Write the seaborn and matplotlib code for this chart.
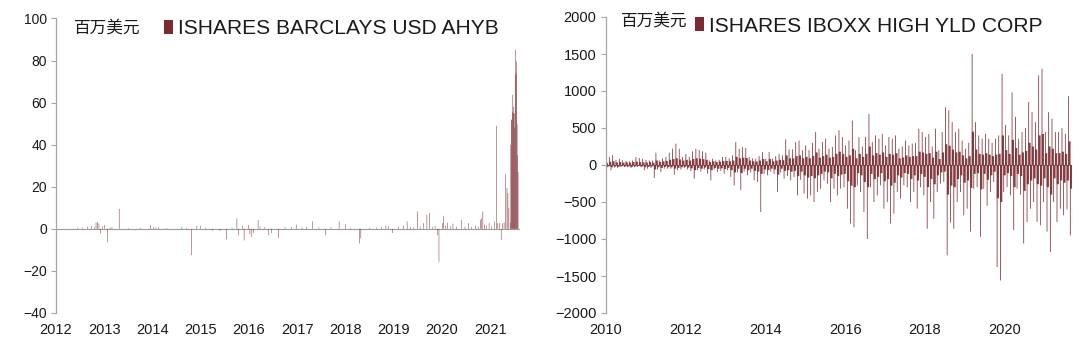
import numpy as np
import pandas as pd
import matplotlib
matplotlib.use("Agg")
import matplotlib.pyplot as plt
import seaborn as sns
from matplotlib.patches import Patch

# ---------------- data: left panel (ISHARES BARCLAYS USD AHYB), 百万美元 ----------------
ahyb_year = [
    2012.45, 2012.55, 2012.65, 2012.74, 2012.80, 2012.83, 2012.86, 2012.89, 2012.92, 2012.96,
    2013.00, 2013.07, 2013.12, 2013.16, 2013.31, 2013.50, 2013.75, 2013.96,
    2014.02, 2014.07, 2014.12, 2014.30, 2014.61, 2014.70, 2014.81, 2014.92, 2014.99,
    2015.10, 2015.25, 2015.40, 2015.54, 2015.65, 2015.75, 2015.78, 2015.87, 2015.90, 2015.99,
    2016.02, 2016.06, 2016.09, 2016.19, 2016.23, 2016.33, 2016.40, 2016.47, 2016.61, 2016.75, 2016.88, 2016.98,
    2017.10, 2017.20, 2017.32, 2017.45, 2017.59, 2017.70, 2017.87,
    2018.00, 2018.10, 2018.29, 2018.32, 2018.50, 2018.65, 2018.75, 2018.84, 2018.90, 2018.98,
    2019.10, 2019.20, 2019.28, 2019.35, 2019.42, 2019.49, 2019.55, 2019.62, 2019.69, 2019.74, 2019.80, 2019.86, 2019.91, 2019.94,
    2020.01, 2020.03, 2020.07, 2020.12, 2020.18, 2020.23, 2020.30, 2020.41, 2020.48, 2020.55, 2020.62, 2020.70, 2020.76, 2020.80, 2020.82, 2020.85, 2020.88, 2020.93, 2020.98,
    2021.03, 2021.09, 2021.13, 2021.16, 2021.19, 2021.23, 2021.26, 2021.29, 2021.32, 2021.35, 2021.37, 2021.39, 2021.42,
    2021.43, 2021.44, 2021.45, 2021.46, 2021.47, 2021.48, 2021.49, 2021.50, 2021.51, 2021.52, 2021.53, 2021.54, 2021.55, 2021.56, 2021.57, 2021.58,
]
ahyb_flow = [
    0.5, 0.6, 1.0, 1.3, 0.8, 3.0, 3.2, 2.5, -2.2, 1.2,
    1.8, -6.2, 0.7, 0.8, 9.5, 0.3, 0.4, 1.8,
    0.8, 0.6, 0.8, 0.4, 1.0, 0.5, -12.5, 1.4, 1.5,
    0.6, -0.8, -1.0, -5.0, 0.5, 5.0, -3.0, 1.5, -5.5, 1.8,
    -2.7, -4.0, -2.0, 4.2, 1.0, 0.8, -3.0, -2.0, -4.5, 0.6, 0.8, 2.0,
    0.7, 1.0, 3.5, 0.6, -3.0, 0.8, 3.5,
    2.2, 0.5, -7.0, -4.5, 0.4, 0.6, 1.0, 1.5, 1.2, -2.0,
    1.0, 1.5, 3.5, 1.0, 0.8, 8.3, 1.2, 2.7, 6.7, 7.5, 1.0, 1.5, -3.0, -15.7,
    2.7, 6.0, 1.5, 3.0, 1.2, 2.5, 1.0, 4.3, 1.0, 2.7, 1.0, 1.5, 1.0, 4.3, 5.0, 8.3, 2.0, 1.5, 2.7,
    1.2, 3.5, 49.0, 2.7, 2.7, -5.3, 2.7, 3.0, 26.0, 19.5, 17.0, 10.0, 3.0,
    40.0, 51.6, 52.0, 55.5, 63.7, 58.0, 54.7, 55.0, 48.0, 73.0, 85.2, 74.0, 79.6, 50.0, 35.0, 27.0,
]
ahyb_xticks = [2012, 2013, 2014, 2015, 2016, 2017, 2018, 2019, 2020, 2021]
ahyb_yticks = [-40, -20, 0, 20, 40, 60, 80, 100]

# ---------------- data: right panel (ISHARES IBOXX HIGH YLD CORP), monthly readings ----------------
hyg_years = [2010, 2011, 2012, 2013, 2014, 2015, 2016, 2017, 2018, 2019, 2020, 2021]
# largest inflow spike of each month
hyg_in_peak = [
    [60, 108, 130, 70, 85, 63, 55, 50, 60, 108, 95, 85],
    [70, 63, 60, 166, 63, 90, 108, 166, 220, 288, 220, 108],
    [150, 110, 185, 220, 205, 185, 166, 63, 85, 63, 70, 108],
    [108, 90, 130, 310, 220, 243, 230, 108, 90, 85, 120, 175],
    [85, 175, 85, 120, 150, 130, 346, 210, 210, 310, 330, 200],
    [265, 200, 300, 445, 220, 310, 355, 220, 245, 400, 470, 375],
    [265, 330, 600, 200, 375, 250, 380, 690, 310, 400, 355, 420],
    [265, 380, 355, 400, 220, 250, 330, 265, 290, 300, 490, 445],
    [380, 420, 250, 490, 200, 445, 780, 740, 580, 445, 490, 330],
    [220, 300, 1500, 580, 400, 355, 420, 355, 300, 355, 400, 1230],
    [540, 400, 980, 650, 355, 445, 500, 850, 715, 580, 1210, 1300],
    [445, 715, 625, 445, 445, 500, 420, 930],
]
# largest outflow spike of each month
hyg_out_peak = [
    [-30, -72, -35, -40, -25, -27, -30, -40, -30, -25, -30, -70],
    [-50, -40, -175, -60, -95, -50, -50, -50, -130, -70, -60, -40],
    [-60, -80, -185, -70, -90, -60, -117, -207, -60, -95, -80, -117],
    [-70, -162, -275, -100, -340, -90, -140, -100, -207, -230, -635, -120],
    [-140, -90, -120, -365, -100, -185, -150, -207, -162, -410, -200, -387],
    [-455, -410, -500, -365, -320, -207, -250, -500, -320, -410, -320, -300],
    [-590, -790, -840, -275, -365, -635, -1000, -300, -500, -410, -275, -590],
    [-500, -790, -657, -365, -455, -275, -300, -500, -365, -590, -300, -410],
    [-860, -500, -725, -365, -250, -230, -1220, -775, -860, -500, -365, -680],
    [-590, -900, -320, -300, -970, -320, -550, -365, -230, -1380, -1560, -365],
    [-300, -410, -880, -320, -400, -1060, -770, -590, -500, -770, -815, -500],
    [-900, -1175, -500, -770, -590, -680, -600, -950],
]
# typical (dense band) inflow level of each month
hyg_in_core = [
    [30, 45, 50, 35, 40, 30, 35, 30, 40, 45, 40, 35],
    [35, 40, 30, 60, 40, 50, 55, 70, 80, 90, 75, 60],
    [70, 60, 80, 90, 85, 80, 70, 40, 50, 40, 45, 55],
    [55, 50, 60, 110, 90, 100, 95, 60, 50, 45, 60, 80],
    [50, 80, 50, 60, 70, 65, 130, 90, 90, 120, 130, 90],
    [110, 90, 120, 170, 100, 120, 140, 100, 110, 150, 180, 150],
    [110, 130, 220, 90, 150, 110, 150, 250, 130, 160, 140, 170],
    [110, 150, 140, 160, 90, 100, 130, 110, 120, 120, 180, 170],
    [150, 160, 100, 180, 80, 170, 280, 260, 210, 170, 180, 130],
    [90, 120, 450, 210, 150, 140, 160, 140, 120, 140, 150, 400],
    [200, 150, 340, 230, 140, 170, 190, 300, 250, 210, 400, 420],
    [160, 250, 220, 160, 160, 180, 150, 320],
]
# typical (dense band) outflow level of each month
hyg_out_core = [
    [-20, -30, -20, -25, -15, -20, -20, -25, -20, -15, -20, -30],
    [-25, -20, -60, -30, -40, -25, -30, -30, -50, -40, -30, -25],
    [-35, -45, -70, -40, -50, -35, -55, -70, -40, -50, -45, -55],
    [-40, -70, -100, -50, -110, -50, -70, -50, -80, -90, -120, -60],
    [-70, -50, -60, -130, -50, -80, -70, -90, -80, -150, -90, -140],
    [-170, -150, -180, -140, -120, -90, -100, -180, -120, -150, -130, -120],
    [-220, -280, -300, -110, -140, -230, -300, -120, -190, -160, -110, -220],
    [-190, -280, -240, -140, -170, -110, -120, -190, -140, -210, -120, -160],
    [-300, -190, -260, -140, -100, -90, -400, -280, -300, -190, -140, -240],
    [-210, -310, -120, -110, -330, -120, -200, -140, -90, -450, -500, -140],
    [-110, -150, -300, -120, -150, -350, -260, -210, -180, -260, -280, -180],
    [-300, -400, -180, -260, -210, -240, -210, -320],
]
hyg_xticks = [2010, 2012, 2014, 2016, 2018, 2020]
hyg_yticks = [-2000, -1500, -1000, -500, 0, 500, 1000, 1500, 2000]

unit_label = "百万美元"
left_title = "ISHARES BARCLAYS USD AHYB"
right_title = "ISHARES IBOXX HIGH YLD CORP"

# ---------------- build tables ----------------
df_left = pd.DataFrame({"year": ahyb_year, "flow": ahyb_flow})


def monthly_table(pairs):
    rows = []
    for series, slot in pairs:
        for yr, months in zip(hyg_years, series):
            for m, v in enumerate(months):
                rows.append({"year": yr + (m + slot) / 12.0, "flow": v})
    return pd.DataFrame(rows).sort_values("year").reset_index(drop=True)


df_core = monthly_table([(hyg_in_core, 0.40), (hyg_out_core, 0.90)])
df_peak = monthly_table([(hyg_in_peak, 0.15), (hyg_out_peak, 0.65)])

# ---------------- style ----------------
sns.set_theme(style="white")
plt.rcParams["font.family"] = ["Liberation Sans", "Noto Sans CJK SC", "DejaVu Sans"]
plt.rcParams["axes.unicode_minus"] = True

BAR = "#7B2B30"
AXC = "#A6A6A6"
TXT = "#1a1a1a"

W, H = 1080, 344
fig = plt.figure(figsize=(W / 100, H / 100), dpi=100)
fig.patch.set_facecolor("white")


def px_axes(x0, x1, ytop, ybot):
    return fig.add_axes([x0 / W, 1 - ybot / H, (x1 - x0) / W, (ybot - ytop) / H])


def style_axes(ax, xticks, yticks, ylim, xlim, ysize):
    ax.set_xlim(*xlim)
    ax.set_ylim(*ylim)
    ax.axhline(0, color="#9a9a9a", lw=0.8, zorder=0.5)
    for s in ["top", "right", "bottom"]:
        ax.spines[s].set_visible(False)
    ax.spines["left"].set_color(AXC)
    ax.spines["left"].set_linewidth(0.9)
    ax.set_yticks(yticks)
    ax.set_xticks(xticks)
    ax.set_xticklabels([str(t) for t in xticks])
    ax.tick_params(axis="y", direction="out", length=3.5, width=0.8, color=AXC,
                   labelsize=ysize, labelcolor=TXT, pad=3, left=True)
    ax.tick_params(axis="x", length=0, labelsize=10.5, labelcolor=TXT, pad=7)
    ax.set_xlabel("")
    ax.set_ylabel("")
    ax.grid(False)
    ax.set_facecolor("white")


bar_kws = dict(native_scale=True, orient="x", color=BAR, saturation=1, errorbar=None,
               linewidth=0, edgecolor="none", snap=False, antialiased=True)

# ---------------- left panel ----------------
axL = px_axes(56, 520, 18.5, 313)
sns.barplot(data=df_left, x="year", y="flow", width=1.0, ax=axL, **bar_kws)
style_axes(axL, ahyb_xticks, ahyb_yticks, (-40, 100), (2012, 2021.62), 10)

# ---------------- right panel ----------------
axR = px_axes(605.5, 1072, 17, 313)
sns.barplot(data=df_core, x="year", y="flow", width=1.3, ax=axR, alpha=0.9, **bar_kws)
sns.barplot(data=df_peak, x="year", y="flow", width=0.45, ax=axR, **bar_kws)
style_axes(axR, hyg_xticks, hyg_yticks, (-2000, 2000), (2010, 2021.68), 10.5)

# ---------------- unit labels and legends ----------------
fig.text(74 / W, 1 - 28 / H, unit_label, fontsize=12, color=TXT, va="center", ha="left")
fig.text(621 / W, 1 - 21 / H, unit_label, fontsize=12, color=TXT, va="center", ha="left")

legL = axL.legend(handles=[Patch(facecolor=BAR, edgecolor="none")], labels=[left_title],
                  loc="center left", bbox_to_anchor=(164 / W, 1 - 29 / H),
                  bbox_transform=fig.transFigure, frameon=False, fontsize=15.1,
                  handlelength=0.45, handleheight=0.65, handletextpad=0.2,
                  borderpad=0, borderaxespad=0)
for t in legL.get_texts():
    t.set_color(TXT)
legR = axR.legend(handles=[Patch(facecolor=BAR, edgecolor="none")], labels=[right_title],
                  loc="center left", bbox_to_anchor=(695 / W, 1 - 26 / H),
                  bbox_transform=fig.transFigure, frameon=False, fontsize=15.1,
                  handlelength=0.45, handleheight=0.65, handletextpad=0.2,
                  borderpad=0, borderaxespad=0)
for t in legR.get_texts():
    t.set_color(TXT)

fig.savefig("out.png", dpi=100, facecolor="white")
